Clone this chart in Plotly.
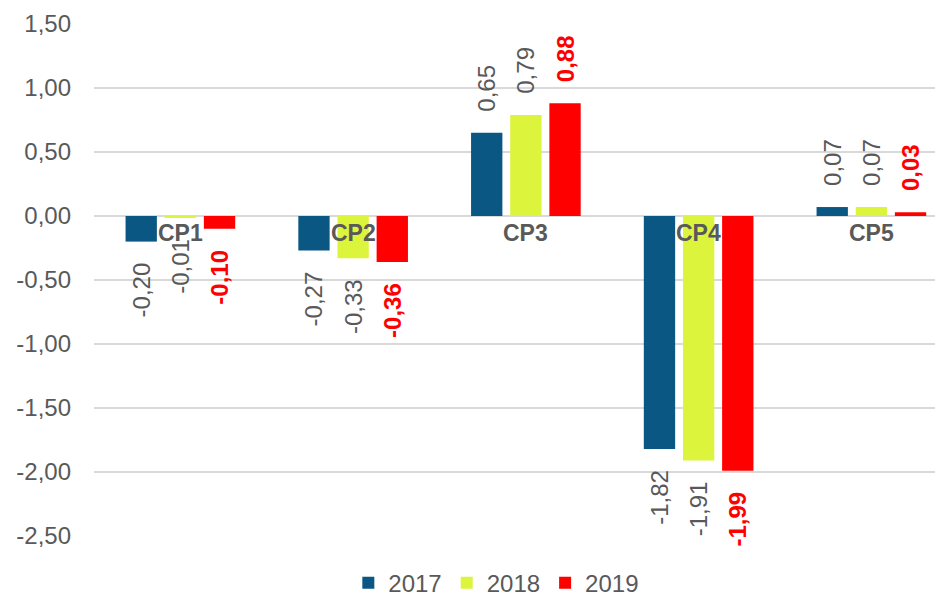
import plotly.graph_objects as go

categories = ["CP1", "CP2", "CP3", "CP4", "CP5"]
series_names = ["2017", "2018", "2019"]
values_2017 = [-0.20, -0.27, 0.65, -1.82, 0.07]
values_2018 = [-0.01, -0.33, 0.79, -1.91, 0.07]
values_2019 = [-0.10, -0.36, 0.88, -1.99, 0.03]
tick_values = [-2.5, -2.0, -1.5, -1.0, -0.5, 0.0, 0.5, 1.0, 1.5]

colors = ["#0B5784", "#DDF43C", "#FF0000"]
font_family = "Liberation Sans, Arial, sans-serif"
gray = "#595959"


def fmt(v):
    return f"{v:.2f}".replace(".", ",")


def pad(v):
    # keep a small gap between bar end and rotated label
    s = fmt(v)
    sp = "\u00a0\u00a0\u2009"
    return (sp + s) if v >= 0 else (s + sp)


fig = go.Figure()
for name, vals, col in zip(series_names, [values_2017, values_2018, values_2019], colors):
    is_red = name == "2019"
    fig.add_trace(go.Bar(
        x=categories, y=vals, name=name,
        marker=dict(color=col, line=dict(width=0)),
        text=[pad(v) for v in vals],
        texttemplate="<b>%{text}</b>" if is_red else "%{text}",
        textposition="outside",
        textangle=-90,
        constraintext="none",
        textfont=dict(family=font_family, size=24, color="#FF0000" if is_red else gray),
        cliponaxis=False,
        hoverinfo="skip",
    ))

for c in categories:
    fig.add_annotation(
        x=c, y=0, xref="x", yref="y", text=f"<b>{c}</b>", showarrow=False,
        yanchor="top", yshift=-2,
        font=dict(family=font_family, size=23, color=gray),
    )

fig.update_layout(
    width=935, height=590,
    margin=dict(l=86, r=2, t=16, b=62, autoexpand=False),
    paper_bgcolor="white", plot_bgcolor="white",
    barmode="group", bargap=0.32, bargroupgap=0.2,
    separators=", ",
    showlegend=True,
    legend=dict(
        orientation="h", x=0.475, xanchor="center", y=-0.092, yanchor="middle",
        font=dict(family=font_family, size=24, color=gray),
        itemclick=False, itemdoubleclick=False, traceorder="normal",
    ),
    font=dict(family=font_family, size=24, color=gray),
)
fig.update_xaxes(showticklabels=False, showgrid=False, zeroline=False, showline=False, ticks="",
                 automargin=False, range=[-0.5, 4.403])
fig.update_yaxes(
    range=[-2.5, 1.5], tickvals=tick_values,
    ticktext=[fmt(t) for t in tick_values],
    showgrid=True, gridcolor="#D9D9D9", gridwidth=1.5,
    zeroline=True, zerolinecolor="#D9D9D9", zerolinewidth=1.5,
    showline=False, ticks="", ticklabelstandoff=22, automargin=False,
    tickfont=dict(family=font_family, size=24, color=gray),
)

fig.write_html("out.html")
